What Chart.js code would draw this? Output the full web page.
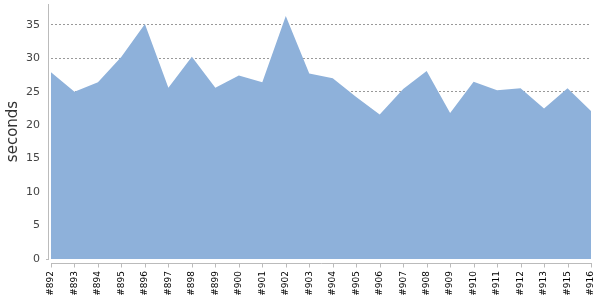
<!DOCTYPE html>
<html>
<head>
<meta charset="utf-8">
<script src="https://cdn.jsdelivr.net/npm/chart.js@4/dist/chart.umd.min.js"></script>
<style>
  html, body { margin: 0; padding: 0; background: #fff; }
  #wrap { width: 600px; height: 300px; position: relative; }
</style>
</head>
<body>
<div id="wrap"><canvas id="c"></canvas></div>
<script>
const categories = ['#892','#893','#894','#895','#896','#897','#898','#899','#900','#901','#902','#903','#904','#905','#906','#907','#908','#909','#910','#911','#912','#913','#915','#916'];
const durations = [27.9, 25.0, 26.4, 30.2, 35.1, 25.6, 30.2, 25.6, 27.4, 26.4, 36.3, 27.7, 27.0, 24.2, 21.6, 25.4, 28.1, 21.8, 26.5, 25.2, 25.5, 22.5, 25.5, 22.1];
const yTicks = [0, 5, 10, 15, 20, 25, 30, 35];
const yTitle = 'seconds';

const axisPlugin = {
  id: 'axisLines',
  afterDraw(chart) {
    const ctx = chart.ctx;
    const a = chart.chartArea;
    const xs = chart.scales.x;
    ctx.save();
    ctx.strokeStyle = '#bbbbbb';
    ctx.lineWidth = 1;
    ctx.beginPath();
    ctx.moveTo(a.left - 2.5, a.top);
    ctx.lineTo(a.left - 2.5, a.bottom + 1);
    ctx.moveTo(a.left - 5, a.bottom + 0.5);
    ctx.lineTo(a.left - 2.5, a.bottom + 0.5);
    const yb = Math.round(a.bottom + 4) + 0.5;
    ctx.moveTo(a.left, yb);
    ctx.lineTo(a.right + 1, yb);
    for (let i = 0; i < categories.length; i++) {
      const px = Math.round(xs.getPixelForTick(i)) + 0.5;
      ctx.moveTo(px, yb);
      ctx.lineTo(px, yb + 4);
    }
    ctx.stroke();
    ctx.restore();
  }
};

function zeroPad(s) {
  s.paddingLeft = 0; s.paddingRight = 0; s.paddingTop = 0; s.paddingBottom = 0;
}

new Chart(document.getElementById('c'), {
  type: 'line',
  data: {
    labels: categories,
    datasets: [{
      data: durations,
      fill: 'origin',
      backgroundColor: '#8eb1da',
      borderColor: '#8eb1da',
      borderWidth: 0,
      pointRadius: 0,
      tension: 0
    }]
  },
  options: {
    responsive: true,
    maintainAspectRatio: false,
    animation: false,
    layout: { padding: { top: 4, right: 9, left: 0, bottom: 0 } },
    plugins: { legend: { display: false }, tooltip: { enabled: false } },
    scales: {
      x: {
        offset: false,
        afterFit(s) { s.height = 41; zeroPad(s); },
        grid: { display: false, drawTicks: false },
        border: { display: false },
        ticks: {
          autoSkip: false,
          maxRotation: 90,
          minRotation: 90,
          padding: 12,
          color: '#000',
          font: { family: 'DejaVu Sans', size: 9 }
        }
      },
      y: {
        min: 0,
        max: 38.1,
        z: 1,
        afterFit(s) { s.width = 51; zeroPad(s); },
        afterBuildTicks(s) { s.ticks = yTicks.map(v => ({ value: v })); },
        border: { display: false, dash: [2, 2] },
        grid: {
          drawTicks: false,
          color: (c) => (c.tick && c.tick.value === 0) ? 'rgba(0,0,0,0)' : 'rgba(70,70,70,0.55)',
          lineWidth: 1
        },
        ticks: {
          padding: 11,
          color: '#444',
          font: { family: 'DejaVu Sans', size: 11 }
        },
        title: {
          display: true,
          text: yTitle,
          color: '#333',
          font: { family: 'DejaVu Sans', size: 15 },
          padding: { top: 4, bottom: 0 }
        }
      }
    }
  },
  plugins: [axisPlugin]
});
</script>
</body>
</html>
